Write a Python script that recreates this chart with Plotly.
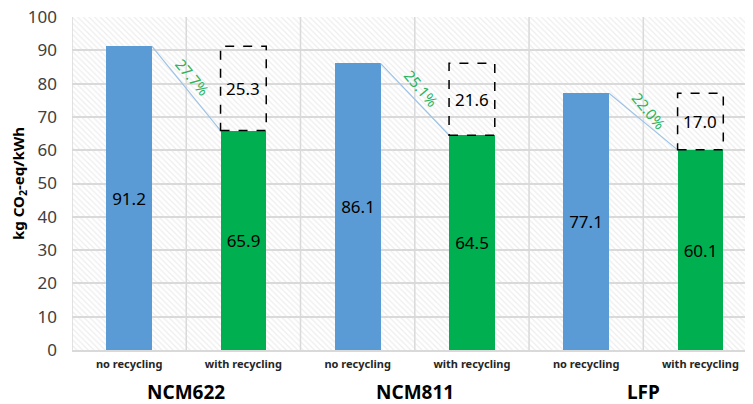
import plotly.graph_objects as go

materials = ["NCM622", "NCM811", "LFP"]
scenarios = ["no recycling", "with recycling"]
no_recycling = [91.2, 86.1, 77.1]
with_recycling = [65.9, 64.5, 60.1]
y_ticks = [0, 10, 20, 30, 40, 50, 60, 70, 80, 90, 100]

BLUE = "#5B9BD5"
GREEN = "#00B050"
PCT_GREEN = "#2DB35C"
GRID = "#D9D9D9"
FONT = "Noto Sans"
BW = 0.40

x_no = [2 * i for i in range(len(materials))]
x_with = [2 * i + 1 for i in range(len(materials))]
n_cat = 2 * len(materials)
diffs = [round(a - b, 1) for a, b in zip(no_recycling, with_recycling)]
pcts = [(a - b) / a * 100 for a, b in zip(no_recycling, with_recycling)]

fig = go.Figure()

# hatched plot background
fig.add_trace(go.Bar(
    x=[(n_cat - 1) / 2], y=[max(y_ticks)], width=[n_cat],
    marker=dict(color="rgba(0,0,0,0)", line=dict(width=0),
                pattern=dict(shape="\\", fgcolor="#DCDCDC", bgcolor="rgba(0,0,0,0)",
                             size=4, solidity=0.3)),
    hoverinfo="skip", showlegend=False))

fig.add_trace(go.Bar(
    x=x_no, y=no_recycling, width=BW, marker=dict(color=BLUE, line=dict(width=0)),
    text=[f"{v:.1f}" for v in no_recycling], textposition="inside",
    insidetextanchor="middle", textangle=0,
    textfont=dict(size=17, color="black", family=FONT), showlegend=False))
fig.add_trace(go.Bar(
    x=x_with, y=with_recycling, width=BW, marker=dict(color=GREEN, line=dict(width=0)),
    text=[f"{v:.1f}" for v in with_recycling], textposition="inside",
    insidetextanchor="middle", textangle=0,
    textfont=dict(size=17, color="black", family=FONT), showlegend=False))

for i in range(len(materials)):
    # connector line
    fig.add_trace(go.Scatter(
        x=[x_no[i] + BW / 2, x_with[i] - BW / 2],
        y=[no_recycling[i], with_recycling[i]],
        mode="lines", line=dict(color="#9DC3E6", width=1.2),
        hoverinfo="skip", showlegend=False))
    # dashed box for avoided emissions
    fig.add_shape(type="rect", xref="x", yref="y",
                  x0=x_with[i] - BW / 2, x1=x_with[i] + BW / 2,
                  y0=with_recycling[i], y1=no_recycling[i],
                  line=dict(color="black", width=1.5, dash="dash"), layer="above")
    fig.add_annotation(x=x_with[i], y=(with_recycling[i] + no_recycling[i]) / 2,
                       text=f"{diffs[i]:.1f}", showarrow=False,
                       font=dict(size=17, color="black", family=FONT))
    fig.add_annotation(x=(x_no[i] + x_with[i]) / 2,
                       y=(no_recycling[i] + with_recycling[i]) / 2,
                       text=f"{pcts[i]:.1f}%", showarrow=False, textangle=50,
                       xshift=6, yshift=11,
                       font=dict(size=15, color=PCT_GREEN, family=FONT))
    fig.add_annotation(x=(x_no[i] + x_with[i]) / 2, y=-0.125, xref="x", yref="paper",
                       text=f"<b>{materials[i]}</b>", showarrow=False, yanchor="middle",
                       font=dict(size=19, color="black", family=FONT))

# vertical gridlines at category boundaries
for k in range(n_cat + 1):
    fig.add_shape(type="line", xref="x", yref="y", x0=k - 0.5, x1=k - 0.5,
                  y0=0, y1=max(y_ticks), line=dict(color=GRID, width=1.5), layer="below")

# page body has an 8px default margin, so the figure is shifted; compensate
fig.update_layout(
    width=745, height=396,
    margin=dict(l=64, r=0, t=9, b=54, autoexpand=False),
    paper_bgcolor="white", plot_bgcolor="white",
    barmode="overlay", bargap=0,
    font=dict(family=FONT, color="#404040"),
    xaxis=dict(range=[-0.5, 5.46], tickmode="array", automargin=False,
               tickvals=x_no + x_with,
               ticktext=[f"<b>{scenarios[0]}</b>"] * len(x_no) + [f"<b>{scenarios[1]}</b>"] * len(x_with),
               tickfont=dict(size=11, color="#262626", family=FONT),
               showgrid=False, zeroline=False, showline=True, linecolor=GRID, linewidth=2,
               ticks="", ticklabelstandoff=3),
    yaxis=dict(range=[0, 100], tickvals=y_ticks, showgrid=True, gridcolor=GRID, gridwidth=1.5,
               zeroline=False, showline=False, ticks="", automargin=False,
               tickfont=dict(size=17, color="#404040", family=FONT),
               ticklabelstandoff=14, ticklabeloverflow="allow",
               title=dict(text="<b>kg CO<sub>2</sub>-eq/kWh</b>", standoff=8,
                          font=dict(size=15, color="black", family=FONT))),
)

fig.write_html("out.html")
